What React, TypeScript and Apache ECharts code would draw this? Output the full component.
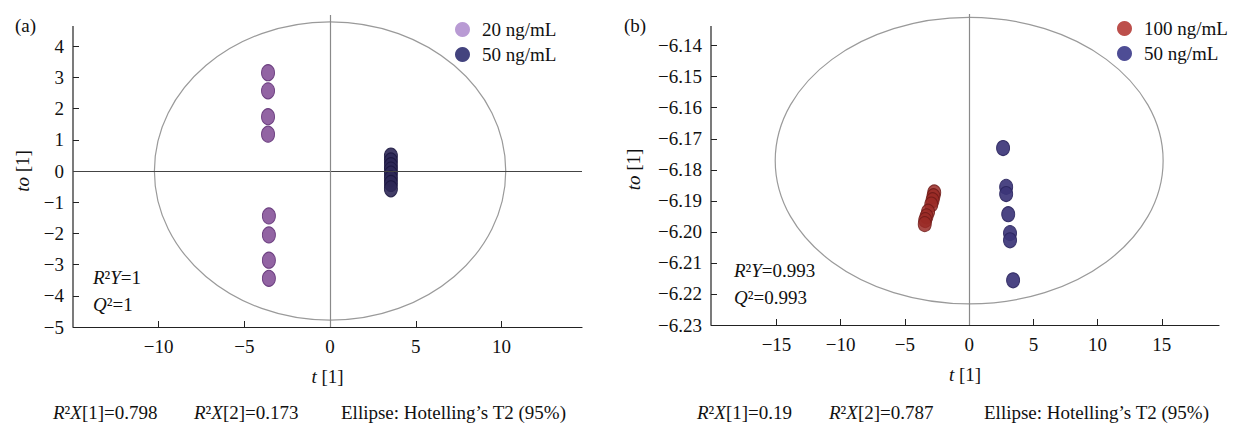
import React, { useEffect, useRef } from "react";
import * as echarts from "echarts";

const FONT = "'Liberation Serif', 'Times New Roman', serif";
const FS = 19;

// ---- tick values ----
const leftXTicks = [-10, -5, 0, 5, 10];
const leftYTicks = [-5, -4, -3, -2, -1, 0, 1, 2, 3, 4];
const rightXTicks = [-15, -10, -5, 0, 5, 10, 15];
const rightYTicks = [-6.23, -6.22, -6.21, -6.2, -6.19, -6.18, -6.17, -6.16, -6.15, -6.14];

// ---- panel (a) data ----
const a20X = [-3.62, -3.62, -3.62, -3.62, -3.57, -3.57, -3.57, -3.57];
const a20Y = [3.15, 2.57, 1.74, 1.18, -1.44, -2.05, -2.86, -3.44];
const a50X = [3.55, 3.55, 3.55, 3.55, 3.55, 3.55, 3.55, 3.55];
const a50Y = [0.48, 0.32, 0.17, 0.03, -0.1, -0.25, -0.4, -0.57];
const aEllipse = [0, 0, 10.25, 4.78]; // cx, cy, rx, ry

// ---- panel (b) data ----
const b100X = [-2.72, -2.78, -2.85, -2.95, -3.2, -3.32, -3.42, -3.46];
const b100Y = [-6.1873, -6.1885, -6.1898, -6.1912, -6.1935, -6.195, -6.1962, -6.1975];
const b50X = [2.64, 2.88, 2.88, 3.04, 3.18, 3.18, 3.42];
const b50Y = [-6.173, -6.1855, -6.1878, -6.1943, -6.2004, -6.2027, -6.2156];
const bEllipse = [0, -6.17705, 15.1, 0.04615];

const zip = (xs: number[], ys: number[]) => xs.map((x, i) => [x, ys[i]]);
const fmt = (v: number, d: number) => {
  const s = Number(v).toFixed(d);
  return s.startsWith("-") ? "\u2212" + s.slice(1) : s;
};

const ellipseRender = (params: any, api: any) => {
  const c = api.coord([api.value(0), api.value(1)]);
  const s = api.size([api.value(2), api.value(3)]);
  return {
    type: "ellipse",
    shape: { cx: c[0], cy: c[1], rx: s[0], ry: s[1] },
    style: { fill: "none", stroke: "#9a9a9a", lineWidth: 1.2 },
  };
};

const txt = { fontFamily: FONT, fontSize: FS, color: "#111" };
const italicRich = { i: { fontStyle: "italic", fontFamily: FONT, fontSize: FS, color: "#111" } };

function xAxisDef(grid: number, min: number, max: number, ticks: number[]) {
  return {
    type: "value",
    gridIndex: grid,
    min,
    max,
    axisLine: { onZero: false, lineStyle: { color: "#222", width: 1.2 } },
    axisTick: { inside: true, length: 6, customValues: ticks, lineStyle: { color: "#222" } },
    axisLabel: { ...txt, margin: 10, customValues: ticks, formatter: (v: number) => fmt(v, 0) },
    splitLine: { show: false },
    name: "{i|t} [1]",
    nameLocation: "middle",
    nameGap: 40,
    nameTextStyle: { ...txt, rich: italicRich },
  };
}

function yAxisDef(grid: number, min: number, max: number, ticks: number[], dec: number, gap: number) {
  return {
    type: "value",
    gridIndex: grid,
    min,
    max,
    axisLine: { show: false, onZero: false },
    axisTick: { show: true, inside: true, length: 6, customValues: ticks, lineStyle: { color: "#222" } },
    axisLabel: { ...txt, margin: 9, customValues: ticks, formatter: (v: number) => fmt(v, dec) },
    splitLine: { show: false },
    name: "{i|to} [1]",
    nameLocation: "middle",
    nameRotate: 90,
    nameGap: gap,
    nameTextStyle: { ...txt, rich: italicRich },
  };
}

function richText(x: number, y: number, text: string) {
  return {
    type: "text",
    x,
    y,
    style: {
      text,
      fontFamily: FONT,
      fontSize: FS,
      fill: "#111",
      verticalAlign: "middle",
      rich: { i: { fontStyle: "italic", fontFamily: FONT, fontSize: FS, fill: "#111" } },
    },
  };
}

export default function App() {
  const ref = useRef<HTMLDivElement>(null);
  useEffect(() => {
    if (!ref.current) return;
    const chart = echarts.init(ref.current, undefined, { renderer: "svg" });
    const option: any = {
      animation: false,
      backgroundColor: "#ffffff",
      grid: [
        { left: 73, top: 15, width: 509, height: 312 },
        { left: 711, top: 14, width: 508, height: 311 },
      ],
      xAxis: [xAxisDef(0, -15, 14.7, leftXTicks), xAxisDef(1, -20.1, 19.45, rightXTicks)],
      yAxis: [
        yAxisDef(0, -5, 5, leftYTicks, 0, 41),
        yAxisDef(1, -6.23, -6.1298, rightYTicks, 2, 68),
      ],
      legend: [
        {
          left: 450,
          top: 15,
          orient: "vertical",
          icon: "circle",
          itemWidth: 15,
          itemHeight: 15,
          itemGap: 6,
          selectedMode: false,
          textStyle: { ...txt, padding: [0, 0, 0, 7] },
          data: [
            { name: "20 ng/mL", itemStyle: { color: "#b596d2", borderWidth: 0 } },
            { name: "50 ng/mL", itemStyle: { color: "#2f2f70", borderWidth: 0 } },
          ],
        },
        {
          left: 1112,
          top: 14,
          orient: "vertical",
          icon: "circle",
          itemWidth: 15,
          itemHeight: 15,
          itemGap: 6,
          selectedMode: false,
          textStyle: { ...txt, padding: [0, 0, 0, 7] },
          data: [
            { name: "100 ng/mL", itemStyle: { color: "#b0302c", borderWidth: 0 } },
            { name: "50 ng/mL", itemStyle: { color: "#3b3a8a", borderWidth: 0 } },
          ],
        },
      ],
      series: [
        // ---- panel (a) ----
        {
          type: "custom",
          xAxisIndex: 0,
          yAxisIndex: 0,
          silent: true,
          clip: false,
          data: [aEllipse],
          renderItem: ellipseRender,
          z: 1,
          markLine: {
            silent: true,
            symbol: "none",
            label: { show: false },
            data: [
              { yAxis: 0, lineStyle: { color: "#444", width: 1.2, type: "solid" } },
              { xAxis: 0, lineStyle: { color: "#8a8a8a", width: 1.2, type: "solid" } },
            ],
          },
        },
        {
          type: "line",
          xAxisIndex: 0,
          yAxisIndex: 0,
          silent: true,
          clip: false,
          symbol: "none",
          lineStyle: { color: "#222", width: 1.2 },
          data: [
            [-15, -5],
            [-15, 4.65],
          ],
        },
        {
          name: "20 ng/mL",
          type: "scatter",
          xAxisIndex: 0,
          yAxisIndex: 0,
          symbol: "circle",
          symbolSize: [13, 16],
          itemStyle: { color: "#8c5c9e", borderColor: "#65377a", borderWidth: 1, opacity: 0.95 },
          data: zip(a20X, a20Y),
          z: 3,
        },
        {
          name: "50 ng/mL",
          type: "scatter",
          xAxisIndex: 0,
          yAxisIndex: 0,
          symbol: "circle",
          symbolSize: [13, 16],
          itemStyle: { color: "#2e2856", borderColor: "#1c1740", borderWidth: 1, opacity: 0.9 },
          data: zip(a50X, a50Y),
          z: 3,
        },
        // ---- panel (b) ----
        {
          type: "custom",
          xAxisIndex: 1,
          yAxisIndex: 1,
          silent: true,
          clip: false,
          data: [bEllipse],
          renderItem: ellipseRender,
          z: 1,
          markLine: {
            silent: true,
            symbol: "none",
            label: { show: false },
            data: [{ xAxis: 0, lineStyle: { color: "#8a8a8a", width: 1.2, type: "solid" } }],
          },
        },
        {
          type: "line",
          xAxisIndex: 1,
          yAxisIndex: 1,
          silent: true,
          clip: false,
          symbol: "none",
          lineStyle: { color: "#222", width: 1.2 },
          data: [
            [-20.1, -6.23],
            [-20.1, -6.1337],
          ],
        },
        {
          name: "100 ng/mL",
          type: "scatter",
          xAxisIndex: 1,
          yAxisIndex: 1,
          symbol: "circle",
          symbolSize: [13, 15],
          itemStyle: { color: "#9a2a26", borderColor: "#6e1a18", borderWidth: 1, opacity: 0.85 },
          data: zip(b100X, b100Y),
          z: 3,
        },
        {
          name: "50 ng/mL",
          type: "scatter",
          xAxisIndex: 1,
          yAxisIndex: 1,
          symbol: "circle",
          symbolSize: [13, 15],
          itemStyle: { color: "#3c3578", borderColor: "#2b2660", borderWidth: 1, opacity: 0.92 },
          data: zip(b50X, b50Y),
          z: 3,
        },
      ],
      graphic: [
        richText(15, 25, "(a)"),
        richText(624, 25, "(b)"),
        richText(93, 277, "{i|R}²{i|Y}=1"),
        richText(93, 304, "{i|Q}²=1"),
        richText(734, 270, "{i|R}²{i|Y}=0.993"),
        richText(734, 297, "{i|Q}²=0.993"),
        richText(53, 412, "{i|R}²{i|X}[1]=0.798"),
        richText(194, 412, "{i|R}²{i|X}[2]=0.173"),
        richText(341, 412, "Ellipse: Hotelling’s T2 (95%)"),
        richText(697, 412, "{i|R}²{i|X}[1]=0.19"),
        richText(829, 412, "{i|R}²{i|X}[2]=0.787"),
        richText(984, 412, "Ellipse: Hotelling’s T2 (95%)"),
      ],
    };
    chart.setOption(option);
    return () => chart.dispose();
  }, []);
  return (
    <div
      ref={ref}
      style={{ position: "fixed", left: 0, top: 0, width: 1239, height: 426, background: "#fff" }}
    />
  );
}
